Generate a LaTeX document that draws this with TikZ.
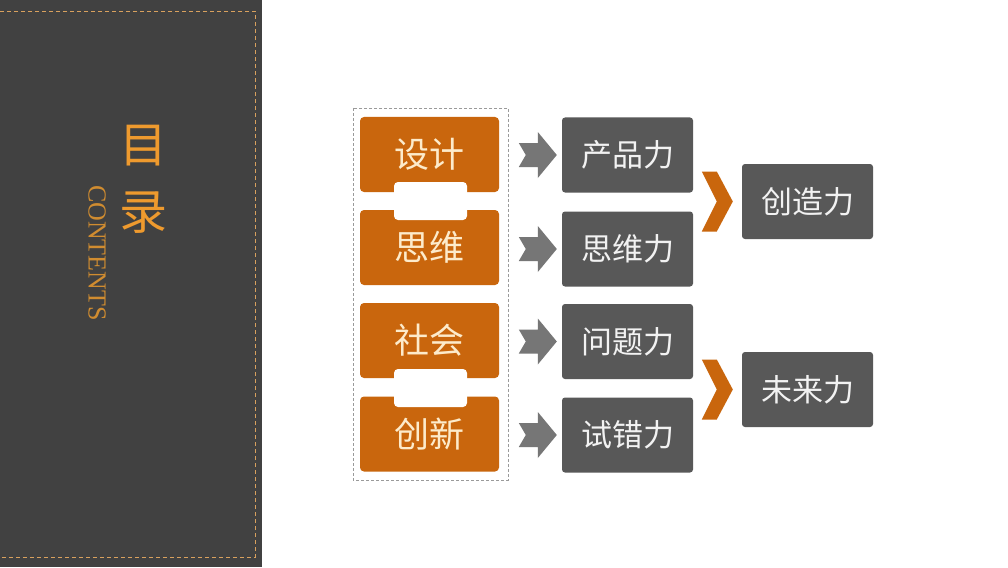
\documentclass[tikz,border=0pt]{standalone}
\usepackage{fontspec}
\usetikzlibrary{calc}
\newfontfamily\cjk{Noto Sans CJK SC}
\newfontfamily\serifen{Liberation Serif}
\definecolor{panel}{HTML}{414141}
\definecolor{panelline}{HTML}{D9A15E}
\definecolor{titleor}{HTML}{EE9A2E}
\definecolor{contor}{HTML}{D08C30}
\definecolor{boxor}{HTML}{C9660D}
\definecolor{boxtext}{HTML}{FDEBCB}
\definecolor{darkbox}{HTML}{585858}
\definecolor{arrowgray}{HTML}{767676}
\definecolor{framegray}{HTML}{9A9A9A}
\begin{document}
\begin{tikzpicture}[x=1pt,y=-1pt,
  orangebox/.style={fill=boxor, rounded corners=4pt, minimum width=139pt, minimum height=75pt, inner sep=0pt, text=boxtext, font=\cjk\fontsize{35}{35}\selectfont},
  linkpiece/.style={fill=white, rounded corners=4pt, minimum width=73pt, minimum height=38pt, inner sep=0pt},
  graybox/.style={fill=darkbox, rounded corners=3pt, minimum width=131pt, minimum height=75pt, inner sep=0pt, text=white!95!black, font=\cjk\fontsize{31}{31}\selectfont},
  grayarrow/.pic={\fill[arrowgray] (0,0) -- (-19,-23) -- (-19,-12) -- (-38,-12) -- (-31,0) -- (-38,12) -- (-19,12) -- (-19,23) -- cycle;},
  orchevron/.pic={\fill[boxor] (0,0) -- (-16,-30) -- (-31,-30) -- (-16,0) -- (-31,30) -- (-16,30) -- cycle;}
]
\useasboundingbox (0,0) rectangle (1008,567);
\fill[white] (0,0) rectangle (1008,567);
% left panel
\fill[panel] (0,0) rectangle (262,567);
\draw[panelline, line width=0.9pt, dash pattern=on 4pt off 3pt] (-5,11) rectangle (255,557);
\node[text=titleor, font=\cjk\fontsize{48}{48}\selectfont, inner sep=0pt] (t1) at (143,146) {目};
\node[text=titleor, font=\cjk\fontsize{48}{48}\selectfont, inner sep=0pt] (t2) at (143,213) {录};
\node[text=contor, font=\serifen\fontsize{26}{26}\selectfont, rotate=-90, inner sep=0pt] (ct) at (97,253) {CONTENTS};
% group frame
\draw[framegray, line width=0.7pt, dash pattern=on 3pt off 2pt] (353,108) rectangle (508,480);
% orange boxes
\node[orangebox] (o1) at (429.5,154.5) {设计};
\node[orangebox] (o2) at (429.5,247.5) {思维};
\node[orangebox] (o3) at (429.5,340.5) {社会};
\node[orangebox] (o4) at (429.5,434) {创新};
\node[linkpiece] (l1) at (430.5,201) {};
\node[linkpiece] (l2) at (430.5,388) {};
% gray boxes
\node[graybox] (g1) at (627.5,155) {产品力};
\node[graybox] (g2) at (627.5,249) {思维力};
\node[graybox] (g3) at (627.5,341.5) {问题力};
\node[graybox] (g4) at (627.5,435) {试错力};
\node[graybox] (c1) at (807.5,201.5) {创造力};
\node[graybox] (c2) at (807.5,389.5) {未来力};
% arrows
\pic at ($(g1.west)+(-5,0)$) {grayarrow};
\pic at ($(g2.west)+(-5,0)$) {grayarrow};
\pic at ($(g3.west)+(-5,0)$) {grayarrow};
\pic at ($(g4.west)+(-5,0)$) {grayarrow};
\pic at ($(c1.west)+(-9,0)$) {orchevron};
\pic at ($(c2.west)+(-9,0)$) {orchevron};
\end{tikzpicture}
\end{document}
